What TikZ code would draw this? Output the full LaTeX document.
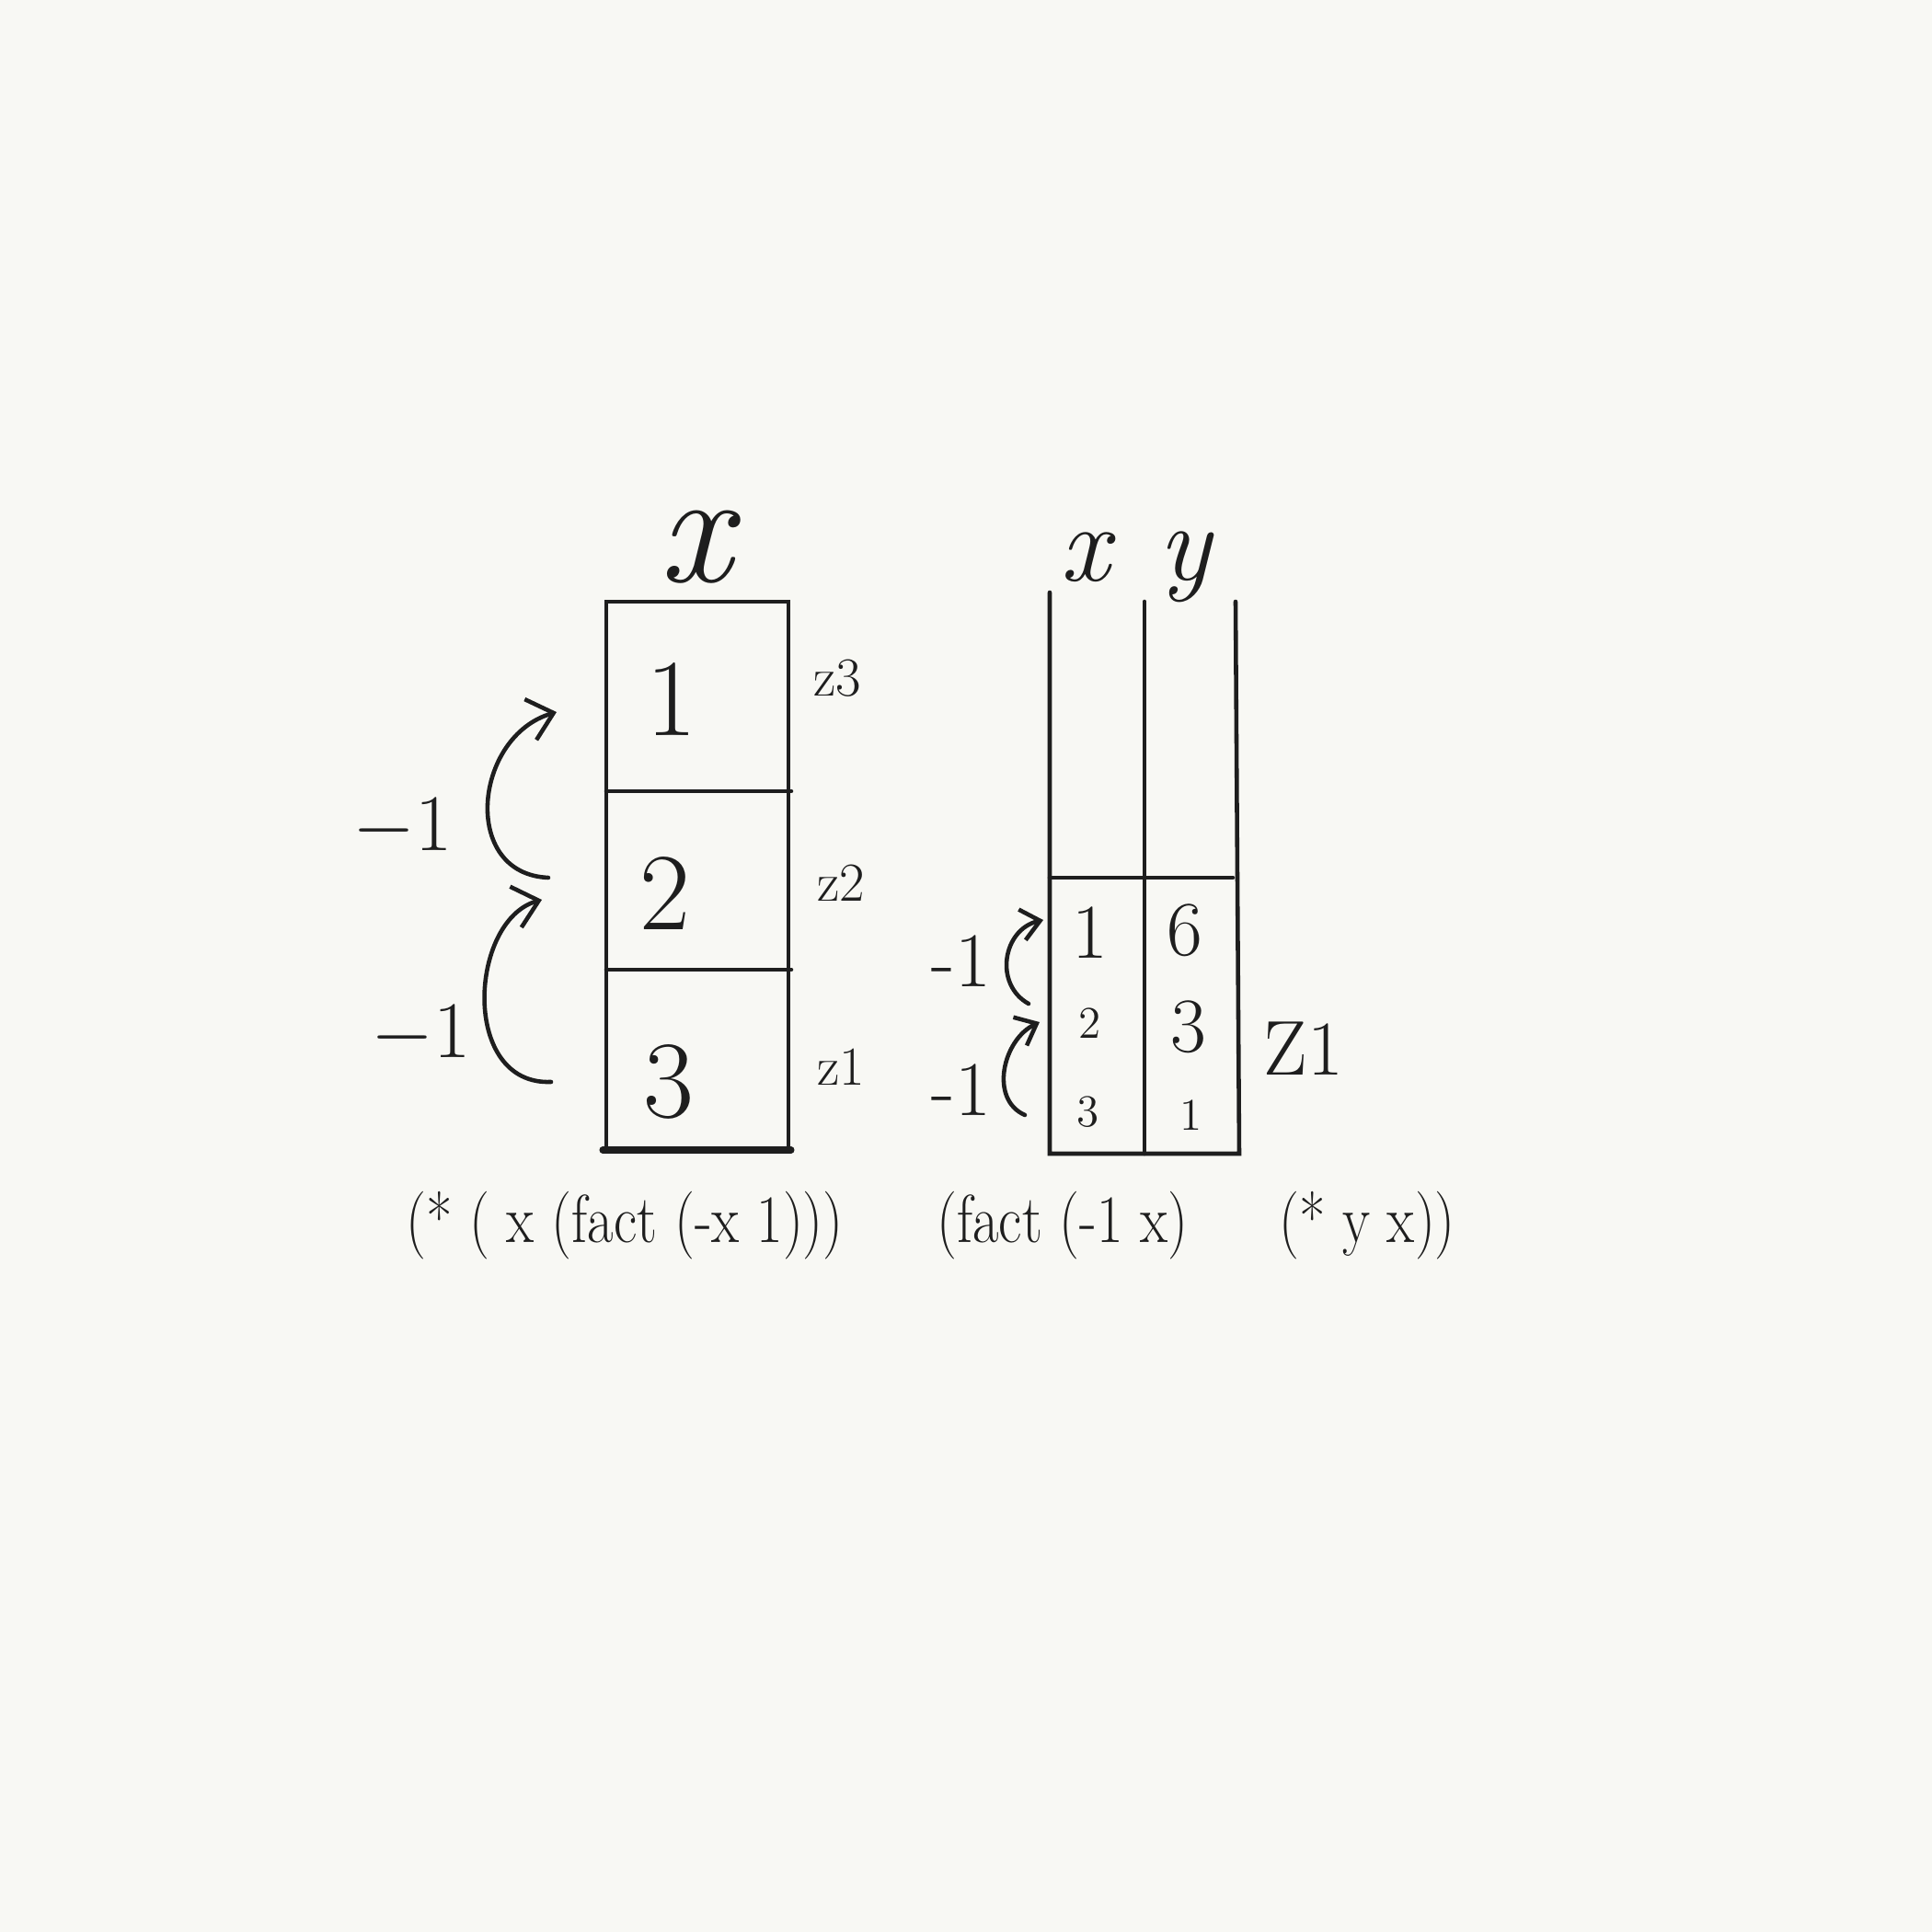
\documentclass[tikz,border=0pt]{standalone}
\usepackage{tikz}
\usetikzlibrary{arrows.meta}
\definecolor{paper}{HTML}{F8F8F4}
\definecolor{inkc}{HTML}{1E1E1E}

\begin{document}
\begin{tikzpicture}[
  ink/.style={line width=1.3pt,draw=inkc,line cap=round},
  hop/.style={ink,-{Straight Barb[length=2.6mm,width=4.6mm,line width=1.3pt]}},
  hopsmall/.style={ink,-{Straight Barb[length=2mm,width=3.4mm,line width=1.3pt]}},
  cellbig/.style={text=inkc,font=\fontsize{34}{38}\selectfont},
  cellmid/.style={text=inkc,font=\fontsize{24}{28}\selectfont},
  cellsmall/.style={text=inkc,font=\fontsize{14}{16}\selectfont},
  tag/.style={text=inkc,font=\fontsize{17}{20}\selectfont},
  varname/.style={text=inkc,font=\fontsize{34}{38}\selectfont\itshape},
  code/.style={text=inkc,font=\fontsize{21}{24}\selectfont,xscale=0.84}
]
  % Paper
  \fill[paper] (0,0) rectangle (21,21);
  \useasboundingbox (0,0) rectangle (21,21);

  % Left stack: one variable x, three frames
  \coordinate (LT) at (6.59,14.46);
  \coordinate (RT) at (8.57,14.46);
  \coordinate (LB) at (6.59,8.50);
  \coordinate (RB) at (8.57,8.50);
  \draw[ink] (LT) -- (LB) -- (RB) -- (RT) -- cycle;
  \draw[ink] (6.59,12.40) -- (8.60,12.40);
  \draw[ink] (6.59,10.46) -- (8.60,10.46);
  \draw[ink,line width=2pt] (6.55,8.50) -- (8.60,8.50);
  \node[varname,font=\fontsize{50}{54}\selectfont\itshape] (lx) at (7.56,15.05) {x};
  \node[cellbig] (l1) at (7.30,13.40) {1};
  \node[cellbig] (l2) at (7.23,11.29) {2};
  \node[cellbig] (l3) at (7.27,9.24) {3};
  \node[tag] (z3) at (9.10,13.63) {z3};
  \node[tag] (z2) at (9.14,11.40) {z2};
  \node[tag] (z1) at (9.14,9.40) {z1};

  % Decrement arrows between frames
  \coordinate (a1s) at (5.96,11.46);
  \coordinate (a1e) at (6.05,13.26);
  \coordinate (a2s) at (5.99,9.24);
  \coordinate (a2e) at (5.89,11.22);
  \draw[hop] (a1s) .. controls (5.0,11.5) and (5.15,13.0) .. (a1e);
  \draw[hop] (a2s) .. controls (5.0,9.2) and (5.1,11.0) .. (a2e);
  \node[cellmid] (m1) at (4.38,12.00) {$-1$};
  \node[cellmid] (m2) at (4.58,9.75) {$-1$};

  % Right stack: x and y in one frame
  \coordinate (RA) at (11.41,14.56);
  \coordinate (RBt) at (12.44,14.46);
  \coordinate (RC) at (13.43,14.46);
  \draw[ink] (RA) -- (11.41,8.46) -- (13.47,8.46) -- (RC);
  \draw[ink] (RBt) -- (12.44,8.46);
  \draw[ink] (11.41,11.46) -- (13.40,11.46);
  \node[varname] (rx) at (11.79,14.94) {x};
  \node[varname] (ry) at (12.88,14.84) {y};
  \node[cellmid] (rx1) at (11.85,10.86) {1};
  \node[cellsmall] (rx2) at (11.85,9.88) {2};
  \node[cellsmall] (rx3) at (11.83,8.91) {3};
  \node[cellmid] (ry1) at (12.88,10.89) {6};
  \node[cellmid] (ry2) at (12.92,9.84) {3};
  \node[cellsmall] (ry3) at (12.95,8.88) {1};
  \node[cellmid] (Z1) at (14.17,9.60) {Z1};

  % Decrement arrows inside the frame
  \coordinate (b1s) at (11.18,10.09);
  \coordinate (b1e) at (11.34,11.00);
  \coordinate (b2s) at (11.14,8.88);
  \coordinate (b2e) at (11.30,9.89);
  \draw[hopsmall] (b1s) .. controls (10.8,10.3) and (10.9,10.9) .. (b1e);
  \draw[hopsmall] (b2s) .. controls (10.75,9.05) and (10.9,9.7) .. (b2e);
  \node[cellmid] (n1) at (10.45,10.55) {-1};
  \node[cellmid] (n2) at (10.45,9.15) {-1};

  % Code under the stacks
  \node[code] (c1) at (6.79,7.68) {(* ( x (fact (-x 1)))};
  \node[code] (c2) at (11.55,7.68) {(fact (-1 x)};
  \node[code] (c3) at (14.86,7.68) {(* y x))};
\end{tikzpicture}
\end{document}
